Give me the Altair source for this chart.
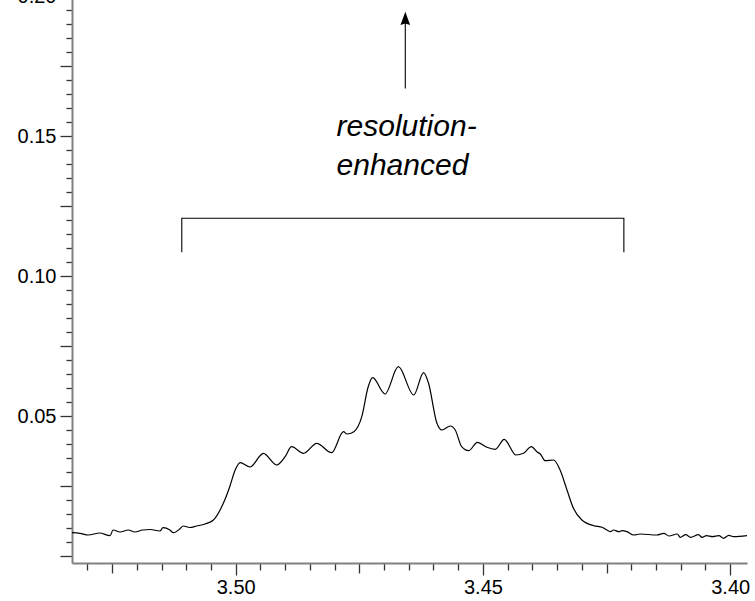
import altair as alt
import pandas as pd

# Spectrum trace (chemical shift in ppm, intensity)
ppm = [3.5331, 3.5315, 3.5298, 3.5275, 3.5254, 3.5248, 3.5234, 3.5217, 3.5204, 3.5188,
       3.5173, 3.5153, 3.5147, 3.5133, 3.5126, 3.5113, 3.5106, 3.5093, 3.5079, 3.5062,
       3.5045, 3.5025, 3.5012, 3.5001, 3.4991, 3.4971, 3.4944, 3.4917, 3.4900, 3.4887,
       3.4863, 3.4836, 3.4806, 3.4782, 3.4775, 3.4761, 3.4745, 3.4732, 3.4723, 3.4698,
       3.4671, 3.4640, 3.4620, 3.4610, 3.4593, 3.4583, 3.4566, 3.4556, 3.4543, 3.4529,
       3.4511, 3.4492, 3.4475, 3.4457, 3.4433, 3.4418, 3.4402, 3.4391, 3.4384, 3.4374,
       3.4357, 3.4344, 3.4330, 3.4317, 3.4300, 3.4276, 3.4259, 3.4242, 3.4236, 3.4225,
       3.4219, 3.4209, 3.4195, 3.4182, 3.4148, 3.4134, 3.4124, 3.4107, 3.4101, 3.4090,
       3.4080, 3.4064, 3.4057, 3.4048, 3.4036, 3.4023, 3.4013, 3.4003, 3.3993, 3.3966]
intensity = [0.00832, 0.00811, 0.00750, 0.00821, 0.00725, 0.00929, 0.00857, 0.00929, 0.00857, 0.00929,
             0.00946, 0.00893, 0.01011, 0.00929, 0.00832, 0.00964, 0.01071, 0.01018, 0.01071, 0.01143,
             0.01286, 0.01882, 0.02475, 0.03071, 0.03332, 0.03179, 0.03668, 0.03250, 0.03546, 0.03904,
             0.03668, 0.04025, 0.03689, 0.04439, 0.04357, 0.04439, 0.04975, 0.06046, 0.06368, 0.05786,
             0.06761, 0.05750, 0.06546, 0.06168, 0.04739, 0.04500, 0.04643, 0.04500, 0.03904, 0.03761,
             0.04061, 0.03882, 0.03811, 0.04168, 0.03607, 0.03668, 0.03904, 0.03725, 0.03643, 0.03404,
             0.03429, 0.03071, 0.02357, 0.01704, 0.01286, 0.01082, 0.01025, 0.00868, 0.00929, 0.00868,
             0.00904, 0.00868, 0.00750, 0.00786, 0.00750, 0.00811, 0.00714, 0.00786, 0.00668, 0.00761,
             0.00668, 0.00761, 0.00668, 0.00725, 0.00689, 0.00725, 0.00632, 0.00739, 0.00689, 0.00725]

# Bracket annotation
bracket_ppm = [3.5109, 3.5109, 3.4215, 3.4215]
bracket_y = [0.1085, 0.1206, 0.1206, 0.1085]
bracket_order = [0, 1, 2, 3]

# Arrow annotation
arrow_ppm = [3.4657]
arrow_y_start = [0.1670]
arrow_y_end = [0.1914]
arrowhead_y = [0.1920]

# Text annotation
label_text = ["resolution-", "enhanced"]
label_ppm = [3.4796, 3.4796]
label_y = [0.1500, 0.1362]

# Axis tick values
x_ticks = [round(3.530 - 0.005 * i, 3) for i in range(27)]
y_ticks = [round(0.005 * i, 3) for i in range(41)]

x_dom = [3.3966, 3.5331]
y_dom = [-0.0025, 0.20]

major = "round(datum.value*1000) % 50 == 0"
medium = "round(datum.value*1000) % 25 == 0"

x_scale = alt.Scale(domain=x_dom, reverse=True, nice=False, zero=False)
y_scale = alt.Scale(domain=y_dom, nice=False, zero=False)

common_axis = dict(
    domainColor="#808080", domainWidth=2,
    tickColor="#333333", tickWidth=1.3,
    labelFont="Liberation Sans", labelFontSize=20, labelColor="black",
    grid=False,
)

x_axis = alt.Axis(
    values=x_ticks,
    labelExpr=f"{major} ? format(datum.value, '.2f') : ''",
    tickSize={"condition": [{"test": major, "value": 12}, {"test": medium, "value": 10}], "value": 7},
    labelPadding=2,
    labelFlush=False,
    labelOverlap=False,
    **common_axis,
)
y_axis = alt.Axis(
    values=y_ticks,
    labelExpr=f"({major}) && datum.value > 0.001 ? format(datum.value, '.2f') : ''",
    tickSize={"condition": [{"test": major, "value": 12}, {"test": medium, "value": 12}], "value": 6},
    labelPadding=4,
    labelFlush=False,
    labelOverlap=False,
    **common_axis,
)


def X(field):
    return alt.X(field, type="quantitative", scale=x_scale, axis=x_axis, title=None)


def Y(field):
    return alt.Y(field, type="quantitative", scale=y_scale, axis=y_axis, title=None)


spec_df = pd.DataFrame({"ppm": ppm, "intensity": intensity})
spectrum = alt.Chart(spec_df).mark_line(color="black", strokeWidth=1.2, interpolate="monotone").encode(
    x=X("ppm"), y=Y("intensity"),
)

br_df = pd.DataFrame({"ppm": bracket_ppm, "intensity": bracket_y, "o": bracket_order})
bracket = alt.Chart(br_df).mark_line(color="black", strokeWidth=1.1).encode(
    x=X("ppm"), y=Y("intensity"), order="o:Q",
)

ar_df = pd.DataFrame({"ppm": arrow_ppm, "intensity": arrow_y_start, "y2": arrow_y_end, "yh": arrowhead_y})
shaft = alt.Chart(ar_df).mark_rule(color="black", strokeWidth=1.1).encode(
    x=X("ppm"), y=Y("intensity"), y2="y2:Q",
)
head = alt.Chart(ar_df).mark_point(
    shape="M0,-1L0.72,1L0,0.75L-0.72,1Z", size=180, filled=True, color="black", opacity=1
).encode(
    x=X("ppm"), y=Y("yh"),
)

tx_df = pd.DataFrame({"text": label_text, "ppm": label_ppm, "intensity": label_y})
texts = alt.Chart(tx_df).mark_text(
    align="left", baseline="alphabetic", font="Liberation Sans", fontStyle="italic",
    fontSize=30, color="black",
).encode(
    x=X("ppm"), y=Y("intensity"), text="text:N",
)

chart = alt.layer(spectrum, bracket, shaft, head, texts).properties(
    width=675, height=567,
    autosize=alt.AutoSizeParams(type="none"),
    padding={"left": 72, "top": -4, "right": 8, "bottom": 38},
    background="white",
).configure_view(stroke=None)

chart.save("out.html", embed_options={"renderer": "svg", "actions": False})
